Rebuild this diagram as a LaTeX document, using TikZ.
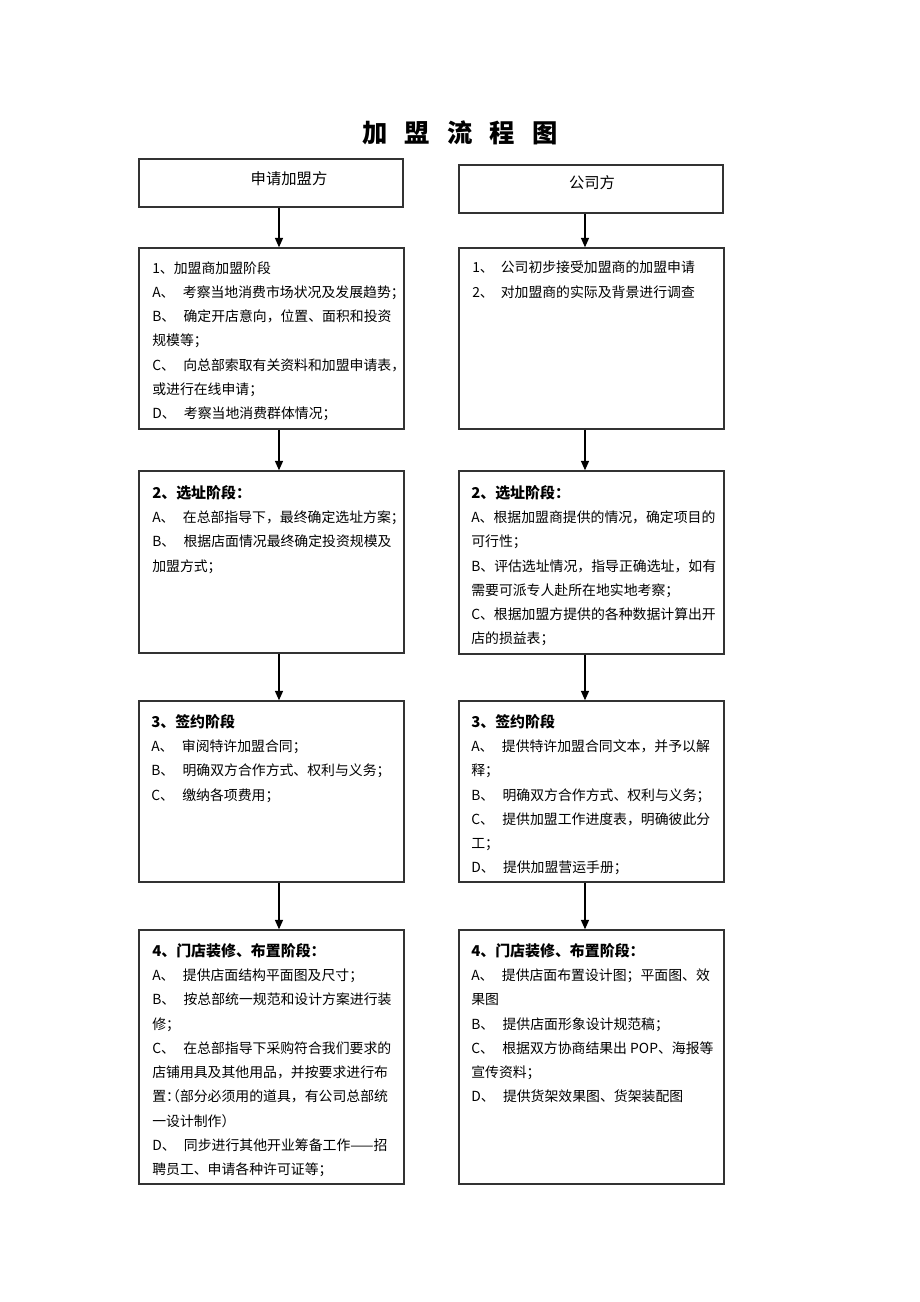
\documentclass[tikz,border=0pt]{standalone}
\usepackage{fontspec}
\setmainfont{Noto Sans CJK SC}
\usetikzlibrary{arrows.meta,fit}
\newcommand{\hw}[1]{\makebox[0.5em][l]{#1}}
\newcommand{\hwr}[1]{\makebox[0.5em][r]{#1}}
\newcommand{\gp}{\hspace{0.6em}}
\newcommand{\stg}[1]{{\fontsize{11.2}{18.2}\selectfont\bfseries #1}}
\begin{document}
\begin{tikzpicture}[x=0.75pt,y=-0.75pt,
  box/.style={draw=black!80, line width=1.1pt, inner sep=0pt},
  arr/.style={-{Triangle[width=6pt,length=7pt]}, line width=1pt, black},
  txt/.style={anchor=north west, inner sep=0pt, align=left,
     font=\fontsize{10.4}{18.2}\selectfont},
  head/.style={font=\fontsize{11.5}{14}\selectfont, inner sep=0pt}]
\useasboundingbox (0,0) rectangle (920,1302);

% title
\node[font=\fontsize{19}{22}\selectfont\bfseries, inner sep=0pt] (title) at (460,133)
  {加\hspace{13pt}盟\hspace{13pt}流\hspace{13pt}程\hspace{13pt}图};

% arrow columns
\coordinate (lx) at (279,0);
\coordinate (rx) at (585,0);

% header boxes
\node[box, fit={(139,159) (403,207)}] (h1) {};
\node[head] (h1t) at (289,179) {申请加盟方};
\node[box, fit={(459,165) (723,213)}] (h2) {};
\node[head] (h2t) at (592,183) {公司方};

% stage boxes
\node[box, fit={(139,248) (404,429)}] (l1) {};
\node[box, fit={(459,248) (724,429)}] (r1) {};
\node[box, fit={(139,471) (404,653)}] (l2) {};
\node[box, fit={(459,471) (724,654)}] (r2) {};
\node[box, fit={(139,701) (404,882)}] (l3) {};
\node[box, fit={(459,701) (724,882)}] (r3) {};
\node[box, fit={(139,930) (404,1184)}] (l4) {};
\node[box, fit={(459,930) (724,1184)}] (r4) {};

% texts
\node[txt] (l1t) at (152,261) {1、加盟商加盟阶段\\
A、\gp 考察当地消费市场状况及发展趋势\hw{；}\\
B、\gp 确定开店意向，位置、面积和投资\\
规模等；\\
C、\gp 向总部索取有关资料和加盟申请表，\\
或进行在线申请；\\
D、\gp 考察当地消费群体情况；};

\node[txt] (r1t) at (472,261) {1、\hspace{0.5em}公司初步接受加盟商的加盟申请\\
2、\hspace{0.5em}对加盟商的实际及背景进行调查};

\node[txt] (l2t) at (152,485) {\stg{2、选址阶段：}\\
A、\gp 在总部指导下，最终确定选址方案\hw{；}\\
B、\gp 根据店面情况最终确定投资规模及\\
加盟方式；};

\node[txt] (r2t) at (471,485) {\stg{2、选址阶段：}\\
A、根据加盟商提供的情况，确定项目的\\
可行性；\\
B、评估选址情况，指导正确选址，如有\\
需要可派专人赴所在地实地考察；\\
C、根据加盟方提供的各种数据计算出开\\
店的损益表；};

\node[txt] (l3t) at (151,714) {\stg{3、签约阶段}\\
A、\gp 审阅特许加盟合同；\\
B、\gp 明确双方合作方式、权利与义务；\\
C、\gp 缴纳各项费用；};

\node[txt] (r3t) at (471,714) {\stg{3、签约阶段}\\
A、\gp 提供特许加盟合同文本，并予以解\\
释；\\
B、\gp 明确双方合作方式、权利与义务；\\
C、\gp 提供加盟工作进度表，明确彼此分\\
工；\\
D、\gp 提供加盟营运手册；};

\node[txt] (l4t) at (152,943) {\stg{4、门店装修、布置阶段：}\\
A、\gp 提供店面结构平面图及尺寸；\\
B、\gp 按总部统一规范和设计方案进行装\\
修；\\
C、\gp 在总部指导下采购符合我们要求的\\
店铺用具及其他用品，并按要求进行布\\
置\hw{：}\hwr{（}部分必须用的道具，有公司总部统\\
一设计制作）\\
D、\gp 同步进行其他开业筹备工作——招\\
聘员工、申请各种许可证等；};

\node[txt] (r4t) at (471,943) {\stg{4、门店装修、布置阶段：}\\
A、\gp 提供店面布置设计图；平面图、效\\
果图\\
B、\gp 提供店面形象设计规范稿；\\
C、\gp 根据双方协商结果出 POP、海报等\\
宣传资料；\\
D、\gp 提供货架效果图、货架装配图};

% arrows
\draw[arr] (h1.south -| lx) -- (l1.north -| lx);
\draw[arr] (h2.south -| rx) -- (r1.north -| rx);
\draw[arr] (l1.south -| lx) -- (l2.north -| lx);
\draw[arr] (r1.south -| rx) -- (r2.north -| rx);
\draw[arr] (l2.south -| lx) -- (l3.north -| lx);
\draw[arr] (r2.south -| rx) -- (r3.north -| rx);
\draw[arr] (l3.south -| lx) -- (l4.north -| lx);
\draw[arr] (r3.south -| rx) -- (r4.north -| rx);
\end{tikzpicture}
\end{document}
